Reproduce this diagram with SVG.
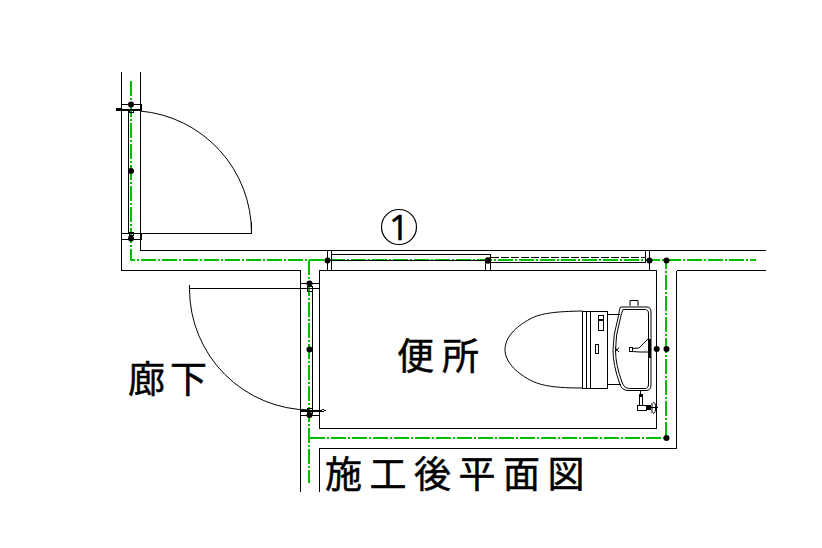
<svg xmlns="http://www.w3.org/2000/svg" width="822" height="548" viewBox="0 0 822 548">
<style>
.l{fill:none;stroke:#000;stroke-width:1;shape-rendering:crispEdges}
.t{fill:none;stroke:#000;stroke-width:1}
.k{fill:none;stroke:#000;stroke-width:2;shape-rendering:crispEdges}
.g{fill:none;stroke:#00c000;stroke-width:2;stroke-dasharray:15 2 2 2;shape-rendering:crispEdges}
.d{fill:#000}
.x{font-family:"Noto Sans CJK JP","Noto Sans CJK SC",sans-serif;font-size:37px;fill:#000;stroke:#000;stroke-width:.5}
</style>
<rect width="822" height="548" fill="#fff"/>
<g id="connectors">
<path class="g" d="M131 81V260H756"/>
<path class="g" d="M309 260V483"/>
<path class="g" d="M310 438H666V260"/>
</g>
<g id="walls">
<path class="l" d="M121.500 72V270.500H300.500V492"/>
<path class="l" d="M140.500 72V250.500H766"/>
<path class="l" d="M319.500 270.500H656.500V428.500H319.500Z"/>
<path class="l" d="M676.500 270.500H766M676.500 270.500V448.500H319.500V492"/>
</g>
<g id="door-upper">
<path class="l" d="M121.500 104.500H141.500V110.500M121.500 233.500H141.500V239.500H121.500"/>
<path class="k" d="M121 110H140"/>
<path class="l" d="M128.500 110.500V233.500M128.500 233.500H251.500V222"/>
<rect x="116" y="108" width="5" height="3" class="d"/>
<path class="t" d="M140 111A122 122 0 0 1 251.500 233"/>
<circle class="d" cx="131" cy="104.500" r="3"/>
<circle class="d" cx="131" cy="171" r="3"/>
<circle class="d" cx="131" cy="238.500" r="3"/>
<rect x="129" y="109" width="4" height="3" class="l"/>
<rect x="129" y="232" width="4" height="3" class="l"/>
</g>
<g id="door-lower">
<path class="l" d="M189.500 285V292M189.500 288.500H309M300.500 283.500H319.500M300.500 288.500H319.500M312.500 288.500V410.500M300.500 415.500H319.500"/>
<path class="k" d="M300 410.500H322"/>
<path class="l" d="M322 409L325 410.500L322 412"/>
<path class="t" d="M189.500 289A121 121 0 0 0 310 410"/>
<circle class="d" cx="309.500" cy="283.500" r="3"/>
<circle class="d" cx="309.500" cy="349.500" r="3"/>
<circle class="d" cx="309.500" cy="415" r="3"/>
<rect x="307" y="286" width="5" height="5" class="l"/>
<rect x="307" y="408" width="5" height="5" class="l"/>
</g>
<g id="window">
<path class="l" d="M327.500 250.500V270.500M331.500 250.500V270.500M331.500 254.500H490.500V262.500M331.500 260.500H485.500V270.500M490.500 262.500V270.500M490.500 262.500H645.500"/>
<path class="l" d="M490.500 257.500H645.500" stroke-dasharray="8 2"/>
<path class="l" d="M645.500 250.500V262.500M649.500 250.500V270.500"/>
<circle class="d" cx="327.500" cy="260.500" r="3"/>
<circle class="d" cx="488" cy="260.500" r="3.200"/>
<circle class="d" cx="649.500" cy="260.500" r="3"/>
<circle class="d" cx="666.500" cy="260.500" r="3"/>
</g>
<g id="toilet">
<path class="t" d="M582.500 311C556 311.500 541 313 530 319C515 327 505 338 505 349.500C505 361 515 372 530 380C541 386 556 388 582.500 388"/>
<path class="l" d="M582.500 311.500H607.500V388.500H582.500ZM586.500 311.500V388.500M590.500 311.500V388.500"/>
<rect class="l" x="598.500" y="315.500" width="5" height="15"/>
<path class="k" d="M598 320H604"/>
<rect class="l" x="595.500" y="344.500" width="3" height="9"/>
<path class="l" d="M607.500 314.500H620M607.500 384.500H621"/>
<path class="t" d="M620.500 307H647Q651 307 651 312V385Q651 390.500 646 390.500H628Q621.500 390.500 619.500 383Q613 365 613 350Q613 335 618 318Q619.500 309 620.500 307Z"/>
<path class="t" d="M623 309.500H645.500Q648.500 309.500 648.500 314V384Q648.500 388.500 645 388.500H629.500Q624 388.500 622 382Q615.500 365 615.500 350Q615.500 335 620 320Q621.500 312 623 309.500Z"/>
<path class="t" d="M630 306V300.500H638V306"/>
<path class="t" d="M632 351.500L640 352H649M632 348.500L639 348L648 339"/>
<rect class="l" x="629.500" y="347.500" width="3" height="4"/>
<rect class="d" x="648.500" y="339" width="2.500" height="19"/>
<path class="t" d="M615 347.500L619 352M619 347.500L615 352" stroke-width=".7"/>
<path class="l" d="M640.500 391V395"/>
<rect class="l" x="639.500" y="395.500" width="3" height="10"/>
<rect class="d" x="639" y="394" width="4" height="3"/>
<rect class="l" x="637.500" y="405.500" width="9" height="5"/>
<rect class="d" x="646" y="405" width="5" height="5"/>
<path class="l" d="M651 407.500H658"/>
<path class="t" d="M653 402.500Q656 402.500 655.500 407.500Q656 413 653 413.500M652 403V413"/>
<circle class="d" cx="656.700" cy="349" r="3"/>
<circle class="d" cx="666.500" cy="349" r="3"/>
<circle class="d" cx="666.500" cy="438" r="3"/>
</g>
<g id="label-1"><circle cx="399" cy="227" r="17.500" fill="none" stroke="#000" stroke-width="1.200"/>
<text x="399" y="240" text-anchor="middle" style="font-family:'Noto Sans',sans-serif;font-size:35px;stroke:#000;stroke-width:.4">1</text></g>
<g id="label-toilet"><text class="x" x="397 442" y="370">便所</text></g>
<g id="label-corridor"><text class="x" x="128 170" y="392.500">廊下</text></g>
<g id="label-title"><text class="x" x="325 369.500 414 458.500 503 547.500" y="487.500">施工後平面図</text></g>
</svg>
